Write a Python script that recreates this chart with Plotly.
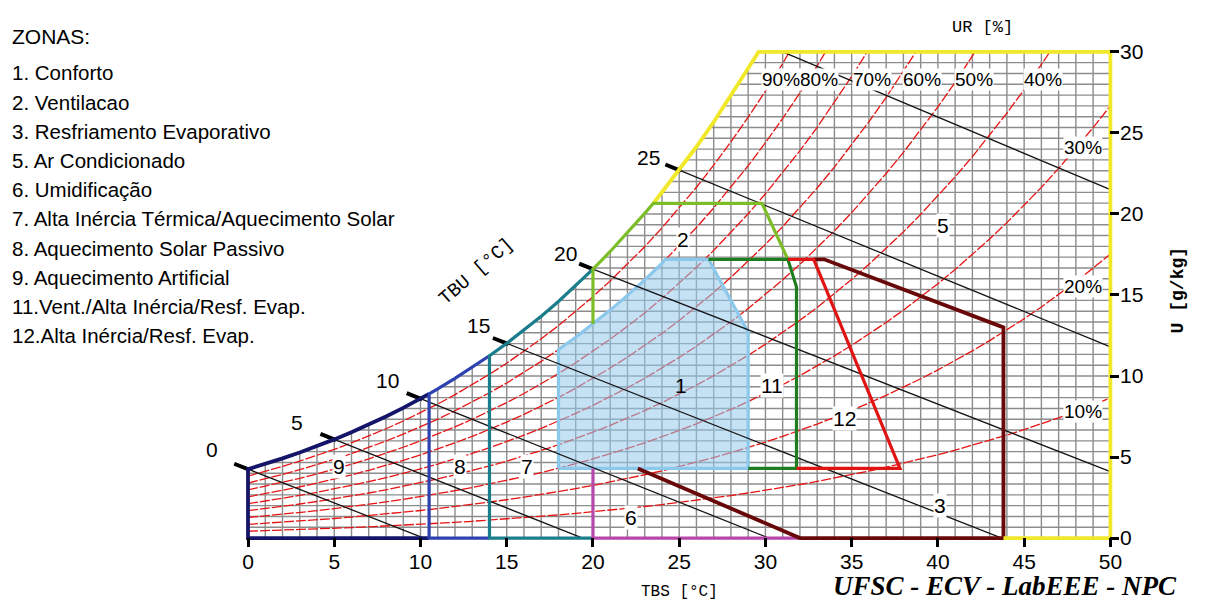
import plotly.graph_objects as go

# ---------------- data ----------------
TBS_TICKS = [0, 5, 10, 15, 20, 25, 30, 35, 40, 45, 50]
U_TICKS = [0, 5, 10, 15, 20, 25, 30]

# chart barometric pressure (kPa) and saturation vapour pressure table (kPa) at 0..50 degC
P_ATM = 90.0
T_TABLE = list(range(0, 51))
PVS_TABLE = [0.6113, 0.6571, 0.7060, 0.7581, 0.8135, 0.8725, 0.9350, 1.0020, 1.0730, 1.1480,
             1.2280, 1.3120, 1.4030, 1.4980, 1.5990, 1.7050, 1.8180, 1.9380, 2.0640, 2.1980,
             2.3390, 2.4880, 2.6450, 2.8090, 2.9850, 3.1690, 3.3630, 3.5670, 3.7820, 4.0080,
             4.2460, 4.4960, 4.7590, 5.0340, 5.3250, 5.6290, 5.9480, 6.2830, 6.6330, 7.0000,
             7.3840, 7.7850, 8.2050, 8.6450, 9.1030, 9.5820, 10.086, 10.612, 11.162, 11.736,
             12.335]

RH_LEVELS = [0.1, 0.2, 0.3, 0.4, 0.5, 0.6, 0.7, 0.8, 0.9]
RH_LABELS = ["10%", "20%", "30%", "40%", "50%", "60%", "70%", "80%", "90%"]
RH_LABEL_T = [48.4, 48.4, 48.4, 46.1, 42.1, 39.1, 36.2, 33.1, 30.9]
RH_LABEL_U = [7.8, 15.5, 24.1, 28.3, 28.3, 28.3, 28.3, 28.3, 28.3]

# wet-bulb (TBU) lines: start on saturation curve, end points
TBU_VALUES = [0, 5, 10, 15, 20, 25, 30]
TBU_LABELS = ["0", "5", "10", "15", "20", "25", ""]
TBU_START_T = [0, 5, 10, 15, 20, 25, 31.0]
TBU_END_T = [10.2, 19.4, 30.2, 43.7, 50.0, 50.0, 50.0]
TBU_END_U = [0.0, 0.0, 0.0, 0.0, 4.1, 11.8, 21.5]
TBU_LABEL_T = [-2.1, 2.85, 8.1, 13.35, 18.4, 23.2]
TBU_LABEL_U = [5.45, 7.15, 9.7, 13.1, 17.55, 23.5]

# zone boundary values
U_LOW = 4.3
U_HIGH = 17.2
SAT_10_5 = 8.9
SAT_23_5 = 20.65
T_SAT_TOP = 29.6

ZONE_LABELS = ["9", "8", "7", "6", "1", "11", "12", "5", "3", "2"]
ZONE_LABEL_T = [5.3, 12.3, 16.2, 22.2, 25.1, 30.4, 34.6, 40.3, 40.1, 25.2]
ZONE_LABEL_U = [4.4, 4.4, 4.4, 1.3, 9.4, 9.4, 7.4, 19.3, 2.0, 18.4]

LEGEND_TITLE = "ZONAS:"
LEGEND_ITEMS = ["1. Conforto", "2. Ventilacao", "3. Resfriamento Evaporativo",
                "5. Ar Condicionado", "6. Umidificação",
                "7. Alta Inércia Térmica/Aquecimento Solar",
                "8. Aquecimento Solar Passivo", "9. Aquecimento Artificial",
                "11.Vent./Alta Inércia/Resf. Evap.", "12.Alta Inércia/Resf. Evap."]

# ---------------- helpers ----------------
def usat(t):
    p = PVS_TABLE[T_TABLE.index(t)]
    return 622.0 * p / (P_ATM - p)


def urh(phi, t):
    p = phi * PVS_TABLE[T_TABLE.index(t)]
    return 622.0 * p / (P_ATM - p)


def sat_run(t_from, t_to):
    step = 1 if t_to >= t_from else -1
    ts = list(range(t_from, t_to + step, step))
    return ts, [usat(t) for t in ts]


# ---------------- geometry / style ----------------
W, H = 1205, 602
PX_X0, PX_PER_T = 248.0, 17.24
PX_Y0, PX_PER_U = 538.0, 16.2
X_RANGE = [-13.8, 50.5]
Y_RANGE = [-0.55, 30.3]
ML = PX_X0 + X_RANGE[0] * PX_PER_T
MR = W - (PX_X0 + X_RANGE[1] * PX_PER_T)
MT = PX_Y0 - Y_RANGE[1] * PX_PER_U
MB = H - (PX_Y0 - Y_RANGE[0] * PX_PER_U)
PW, PH = W - ML - MR, H - MT - MB


def pxx(px):
    return (px - ML) / PW


def pxy(py):
    return (H - MB - py) / PH


SANS = "Liberation Sans, Arial, sans-serif"
MONO = "Liberation Mono, Courier New, monospace"
SERIF = "Liberation Serif, Times New Roman, serif"

C_NAVY = "rgb(20,20,105)"
C_BLUE = "rgb(45,65,175)"
C_TEAL = "rgb(25,125,140)"
C_MAG = "rgb(185,70,170)"
C_CONF = "rgb(140,200,235)"
C_LGREEN = "rgb(125,190,40)"
C_DGREEN = "rgb(30,125,30)"
C_RED = "rgb(225,20,20)"
C_MAROON = "rgb(105,8,8)"
C_YELLOW = "rgb(240,232,40)"
ZW = 3.2

fig = go.Figure()


def line(xs, ys, color, width, dash="solid"):
    fig.add_trace(go.Scatter(x=xs, y=ys, mode="lines", hoverinfo="skip",
                             line=dict(color=color, width=width, dash=dash),
                             showlegend=False))


# grid (1 degC x 45 rows)
gx, gy = [], []
for t in T_TABLE:
    gx += [t, t, None]
    gy += [0, 30, None]
for k in range(46):
    u = 30.0 * k / 45
    gx += [0, 50, None]
    gy += [u, u, None]
line(gx, gy, "rgb(140,140,140)", 1.4)

# relative humidity curves
for phi in RH_LEVELS:
    line(T_TABLE, [urh(phi, t) for t in T_TABLE], "rgb(230,20,20)", 1.3, "10px,2px")

# white mask above saturation curve and above U=30
mts, mus = sat_run(0, 30)
mx = [-0.6] + mts + [30, 50.6, 50.6, -0.6]
my = [mus[0]] + mus + [30.0, 30.0, 32, 32]
fig.add_trace(go.Scatter(x=mx, y=my, mode="lines", fill="toself", fillcolor="white",
                         line=dict(width=0, color="white"), hoverinfo="skip", showlegend=False))

# comfort zone (1)
ct = [18] + list(range(18, 25)) + [24.2, 26.7, 29, 29, 18]
cu = [U_LOW] + [urh(0.8, t) for t in range(18, 25)] + [U_HIGH, U_HIGH, 12.7, U_LOW, U_LOW]
fig.add_trace(go.Scatter(x=ct, y=cu, mode="lines", fill="toself",
                         fillcolor="rgba(150,200,235,0.55)",
                         line=dict(color=C_CONF, width=ZW), hoverinfo="skip", showlegend=False))

# wet-bulb lines and their ticks
for i, tb in enumerate(TBU_VALUES):
    t0 = TBU_START_T[i]
    u0 = usat(tb) if tb < 30 else 30.0
    line([t0, TBU_END_T[i]], [u0, TBU_END_U[i]], "rgb(20,20,20)", 1.3)
    if tb < 30:
        s = (TBU_END_U[i] - u0) / (TBU_END_T[i] - t0)
        line([t0 - 0.8, t0 + 0.1], [u0 - 0.8 * s, u0 + 0.1 * s], "black", 4)

# zone outlines
ts, us = sat_run(0, 10)
line([10.5, 0] + ts + [10.5], [0, 0] + us + [SAT_10_5], C_NAVY, ZW + 0.6)          # 9
ts, us = sat_run(14, 11)
line(ts + [10.5, 10.5, 14], us + [SAT_10_5, 0, 0], C_BLUE, ZW)                     # 8
ts, us = sat_run(20, 14)
line(ts + [14, 20], us + [0, 0], C_TEAL, ZW)                                        # 7
line([20, 20, 32], [U_LOW, 0, 0], C_MAG, ZW)                                        # 6
line([22.6, 32, 43.8, 43.8, 33.4, 32.8], [U_LOW, 0, 0, 13.0, U_HIGH, U_HIGH], C_MAROON, ZW + 0.6)  # 3
ts, us = sat_run(29, 24)
line([43.8, 50, 50, T_SAT_TOP] + ts + [23.5], [0, 0, 30, 30] + us + [SAT_23_5], C_YELLOW, ZW + 0.6)  # 5
ts, us = sat_run(20, 23)
line([20] + ts + [23.5, 29.8, 31.3], [urh(0.8, 20)] + us + [SAT_23_5, SAT_23_5, U_HIGH], C_LGREEN, ZW)  # 2
line([26.7, 31.3, 31.8, 31.8, 29], [U_HIGH, U_HIGH, 15.5, U_LOW, U_LOW], C_DGREEN, ZW)  # 11
line([31.3, 32.8, 37.8, 31.8], [U_HIGH, U_HIGH, U_LOW, U_LOW], C_RED, ZW)                # 12

# ---------------- annotations ----------------
ann = []
for lab, t, u in zip(RH_LABELS, RH_LABEL_T, RH_LABEL_U):
    ann.append(dict(x=t, y=u, xref="x", yref="y", text=lab, showarrow=False,
                    xanchor="center", yanchor="middle",
                    font=dict(family=SANS, size=19, color="black"), bgcolor="white", borderpad=0))
for lab, t, u in zip(TBU_LABELS, TBU_LABEL_T, TBU_LABEL_U):
    if lab:
        ann.append(dict(x=t, y=u, xref="x", yref="y", text=lab, showarrow=False,
                        xanchor="center", yanchor="middle",
                        font=dict(family=SANS, size=21, color="black")))
for lab, t, u in zip(ZONE_LABELS, ZONE_LABEL_T, ZONE_LABEL_U):
    ann.append(dict(x=t, y=u, xref="x", yref="y", text=lab, showarrow=False,
                    xanchor="center", yanchor="middle",
                    font=dict(family=SANS, size=21, color="black"),
                    bgcolor=None if lab == "1" else "white", borderpad=0))

ann.append(dict(x=pxx(10), y=pxy(37), xref="paper", yref="paper", text=LEGEND_TITLE,
                showarrow=False, xanchor="left", yanchor="middle",
                font=dict(family=SANS, size=21, color="black")))
for i, item in enumerate(LEGEND_ITEMS):
    ann.append(dict(x=pxx(10), y=pxy(73 + 29.2 * i), xref="paper", yref="paper", text=item,
                    showarrow=False, xanchor="left", yanchor="middle",
                    font=dict(family=SANS, size=20.5, color="black")))


def title(px, py, text, family, size, angle=0):
    ann.append(dict(x=pxx(px), y=pxy(py), xref="paper", yref="paper", text=text,
                    showarrow=False, xanchor="center", yanchor="middle", textangle=angle,
                    font=dict(family=family, size=size, color="black")))


title(982, 28, "UR [%]", MONO, 17)
title(679, 592, "TBS [°C]", MONO, 16)
title(1178, 290, "<b>U [g/kg]</b>", MONO, 18, -90)
title(476, 272, "TBU [°C]", MONO, 19, -41)
title(1005, 586, "<b><i>UFSC - ECV - LabEEE - NPC</i></b>", SERIF, 27)

fig.update_layout(
    width=W, height=H, autosize=False,
    margin=dict(l=ML, r=MR, t=MT, b=MB, pad=0),
    paper_bgcolor="white", plot_bgcolor="white",
    annotations=ann, showlegend=False,
    xaxis=dict(range=X_RANGE, tickvals=TBS_TICKS, ticktext=[str(v) for v in TBS_TICKS],
               ticks="inside", ticklen=9, tickwidth=3, tickcolor="black",
               showgrid=False, zeroline=False, showline=False,
               tickfont=dict(family=SANS, size=21, color="black")),
    yaxis=dict(range=Y_RANGE, side="right", tickvals=U_TICKS,
               ticktext=[str(v) for v in U_TICKS],
               ticks="inside", ticklen=9, tickwidth=3, tickcolor="black",
               showgrid=False, zeroline=False, showline=False,
               tickfont=dict(family=SANS, size=21, color="black")),
)

fig.write_html("out.html", config={"displayModeBar": False},
               post_script="document.body.style.margin='0px';document.body.style.overflow='hidden';")
